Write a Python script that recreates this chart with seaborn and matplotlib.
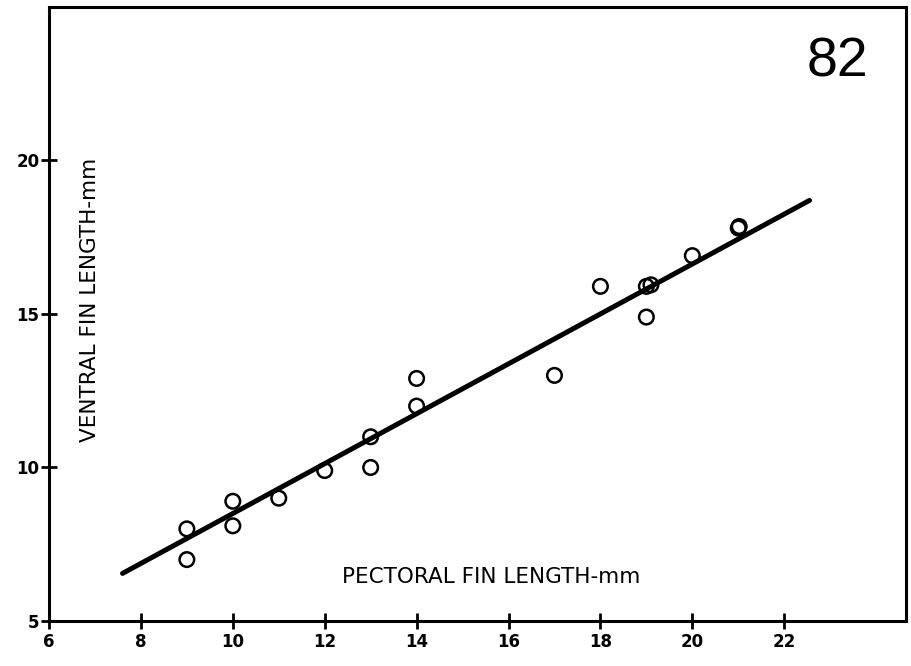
import numpy as np
import pandas as pd
import matplotlib
matplotlib.use('Agg')
import matplotlib.pyplot as plt
import seaborn as sns

# pectoral vs ventral fin length (mm)
pectoral = [9, 9, 10, 10, 11, 12, 13, 13, 14, 14, 17, 18, 19, 19, 19.1, 20, 21, 21.02]
ventral = [8, 7, 8.9, 8.1, 9, 9.9, 11, 10, 12.9, 12, 13, 15.9, 14.9, 15.9, 15.95, 16.9, 17.8, 17.85]

# fitted line endpoints
line_x = [7.6, 22.55]
line_y = [6.55, 18.7]

xticks = [6, 8, 10, 12, 14, 16, 18, 20, 22]
yticks = [5, 10, 15, 20]

sns.set_style('white')
plt.rcParams['font.family'] = ['DejaVu Sans']
plt.rcParams['text.color'] = 'black'

df = pd.DataFrame({'pec': pectoral, 'ven': ventral})
df_line = pd.DataFrame({'x': line_x, 'y': line_y})

fig = plt.figure(figsize=(9.11, 6.66), dpi=100)
ax = fig.add_axes([0.0538, 0.0676, 0.9407, 0.9219])

sns.lineplot(x='x', y='y', data=df_line, color='black', linewidth=3.6,
             solid_capstyle='round', ax=ax)
sns.scatterplot(x='pec', y='ven', data=df, marker='o', s=110,
                facecolor='none', edgecolor='black', linewidth=1.8, ax=ax, zorder=3)

ax.set_xlim(6, 24.65)
ax.set_ylim(5, 25)
ax.set_xticks(xticks)
ax.set_yticks(yticks)
ax.set_xticklabels([str(t) for t in xticks], fontsize=12, fontweight='bold')
ax.set_yticklabels([str(t) for t in yticks], fontsize=12, fontweight='bold')
ax.tick_params(axis='both', bottom=True, left=True, direction='inout', length=12,
               width=2, color='black', labelcolor='black')
ax.tick_params(axis='x', pad=3)
ax.tick_params(axis='y', pad=1)
ax.set_xlabel('')
ax.set_ylabel('')
for sp in ax.spines.values():
    sp.set_color('black')
    sp.set_linewidth(2.2)

ax.text(0.516, 0.071, 'PECTORAL FIN LENGTH-mm', transform=ax.transAxes,
        ha='center', va='center', fontsize=15.5, color='black')
ax.text(0.048, 0.523, 'VENTRAL FIN LENGTH-mm', transform=ax.transAxes,
        ha='center', va='center', fontsize=15.5, rotation=90, color='black')
ax.text(0.92, 0.91, '82', transform=ax.transAxes, ha='center', va='center',
        fontsize=40, family='Liberation Sans', color='black')

fig.savefig('out.png', dpi=100)
